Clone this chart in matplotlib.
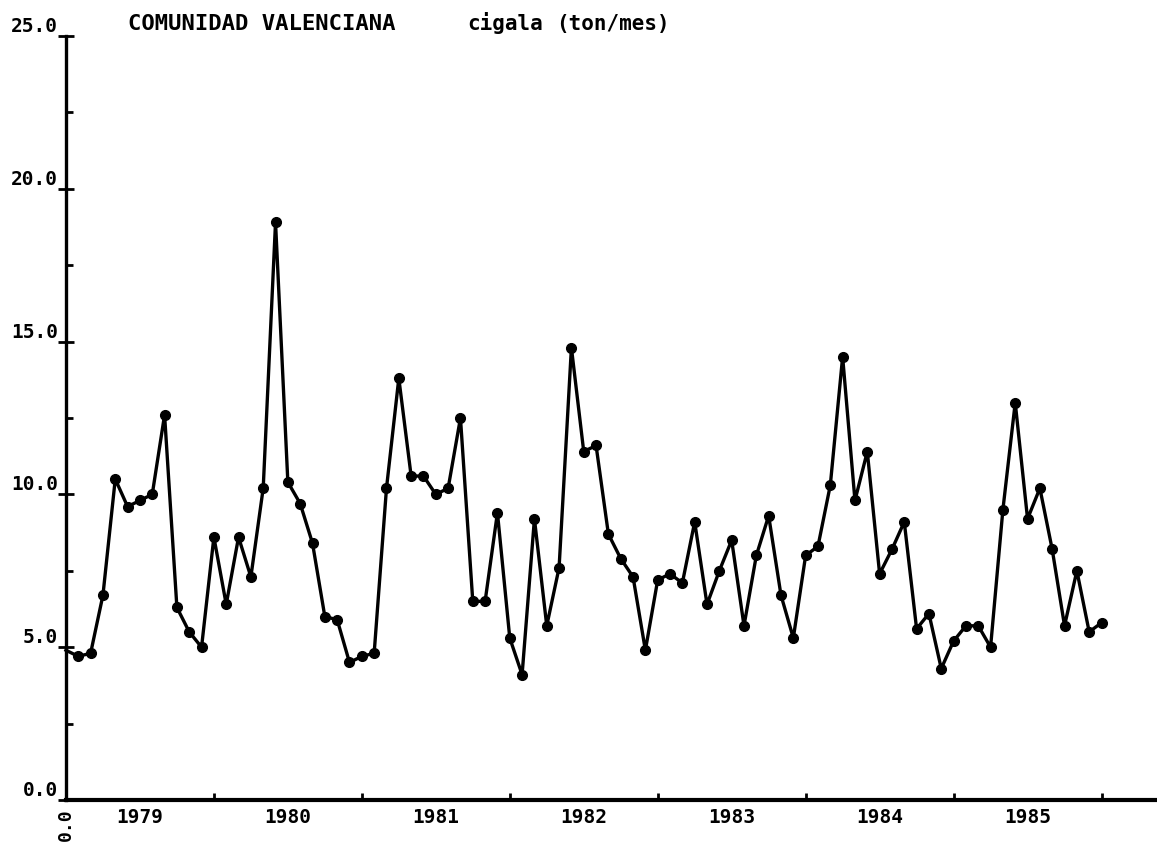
import matplotlib
matplotlib.use("Agg")
import matplotlib.pyplot as plt
from matplotlib.ticker import MultipleLocator

# capturas mensuales de cigala, desde enero de 1979
capturas = [4.9, 4.7, 4.8, 6.7, 10.5, 9.6, 9.8, 10.0, 12.6, 6.3, 5.5, 5.0,
            8.6, 6.4, 8.6, 7.3, 10.2, 18.9, 10.4, 9.7, 8.4, 6.0, 5.9, 4.5,
            4.7, 4.8, 10.2, 13.8, 10.6, 10.6, 10.0, 10.2, 12.5, 6.5, 6.5, 9.4,
            5.3, 4.1, 9.2, 5.7, 7.6, 14.8, 11.4, 11.6, 8.7, 7.9, 7.3, 4.9,
            7.2, 7.4, 7.1, 9.1, 6.4, 7.5, 8.5, 5.7, 8.0, 9.3, 6.7, 5.3,
            8.0, 8.3, 10.3, 14.5, 9.8, 11.4, 7.4, 8.2, 9.1, 5.6, 6.1, 4.3,
            5.2, 5.7, 5.7, 5.0, 9.5, 13.0, 9.2, 10.2, 8.2, 5.7, 7.5, 5.5,
            5.8]
meses = list(range(len(capturas)))
anios = ["1979", "1980", "1981", "1982", "1983", "1984", "1985"]
yticks = [0, 5, 10, 15, 20, 25]

fuente = "DejaVu Sans Mono"

fig = plt.figure(figsize=(11.57, 8.42), dpi=100)
ax = fig.add_axes([0.057, 0.0499, 0.943, 0.9074])

ax.plot(meses, capturas, color="black", lw=2.4, marker="o", ms=7,
        markevery=slice(1, None), clip_on=False)

ax.set_xlim(0, 88.5)
ax.set_ylim(0, 25)

for s in ["top", "right"]:
    ax.spines[s].set_visible(False)
ax.spines["left"].set_linewidth(2.4)
ax.spines["bottom"].set_linewidth(3.0)

# eje y: etiquetas apoyadas encima de cada marca
ax.set_yticks(yticks, labels=["%.1f" % v for v in yticks])
ax.yaxis.set_minor_locator(MultipleLocator(2.5))
ax.tick_params(axis="y", which="major", direction="inout", length=11,
               width=2, pad=0)
ax.tick_params(axis="y", which="minor", direction="in", length=5, width=2)
for lab in ax.get_yticklabels():
    lab.set_fontfamily(fuente)
    lab.set_fontweight("bold")
    lab.set_fontsize(14)
    lab.set_verticalalignment("bottom")

# eje x: marcas en el cambio de año, años centrados en cada intervalo
ax.set_xticks([12 * i for i in range(1, 8)], labels=[""] * 7)
ax.set_xticks([12 * i + 6 for i in range(7)], labels=anios, minor=True)
ax.tick_params(axis="x", which="major", direction="in", length=5, width=2)
ax.tick_params(axis="x", which="minor", length=0, pad=6)
for lab in ax.get_xticklabels(minor=True):
    lab.set_fontfamily(fuente)
    lab.set_fontweight("bold")
    lab.set_fontsize(14)

ax.annotate("0.0", xy=(0, 0), xytext=(0, -6), textcoords="offset points",
            rotation=90, ha="center", va="top", fontsize=13,
            fontweight="bold", family=fuente, annotation_clip=False)

# titulo en tres piezas sobre la misma linea base
ybase = 1 - 30 / 842
fig.text(128 / 1157, ybase, "COMUNIDAD VALENCIANA", family=fuente,
         fontweight="bold", fontsize=16, va="baseline")
fig.text(467 / 1157, ybase, "cigala", family=fuente,
         fontweight="bold", fontsize=15, va="baseline")
fig.text(556 / 1157, ybase, "(ton/mes)", family=fuente,
         fontweight="bold", fontsize=15, va="baseline")

fig.savefig("out.png", dpi=100, facecolor="white")
